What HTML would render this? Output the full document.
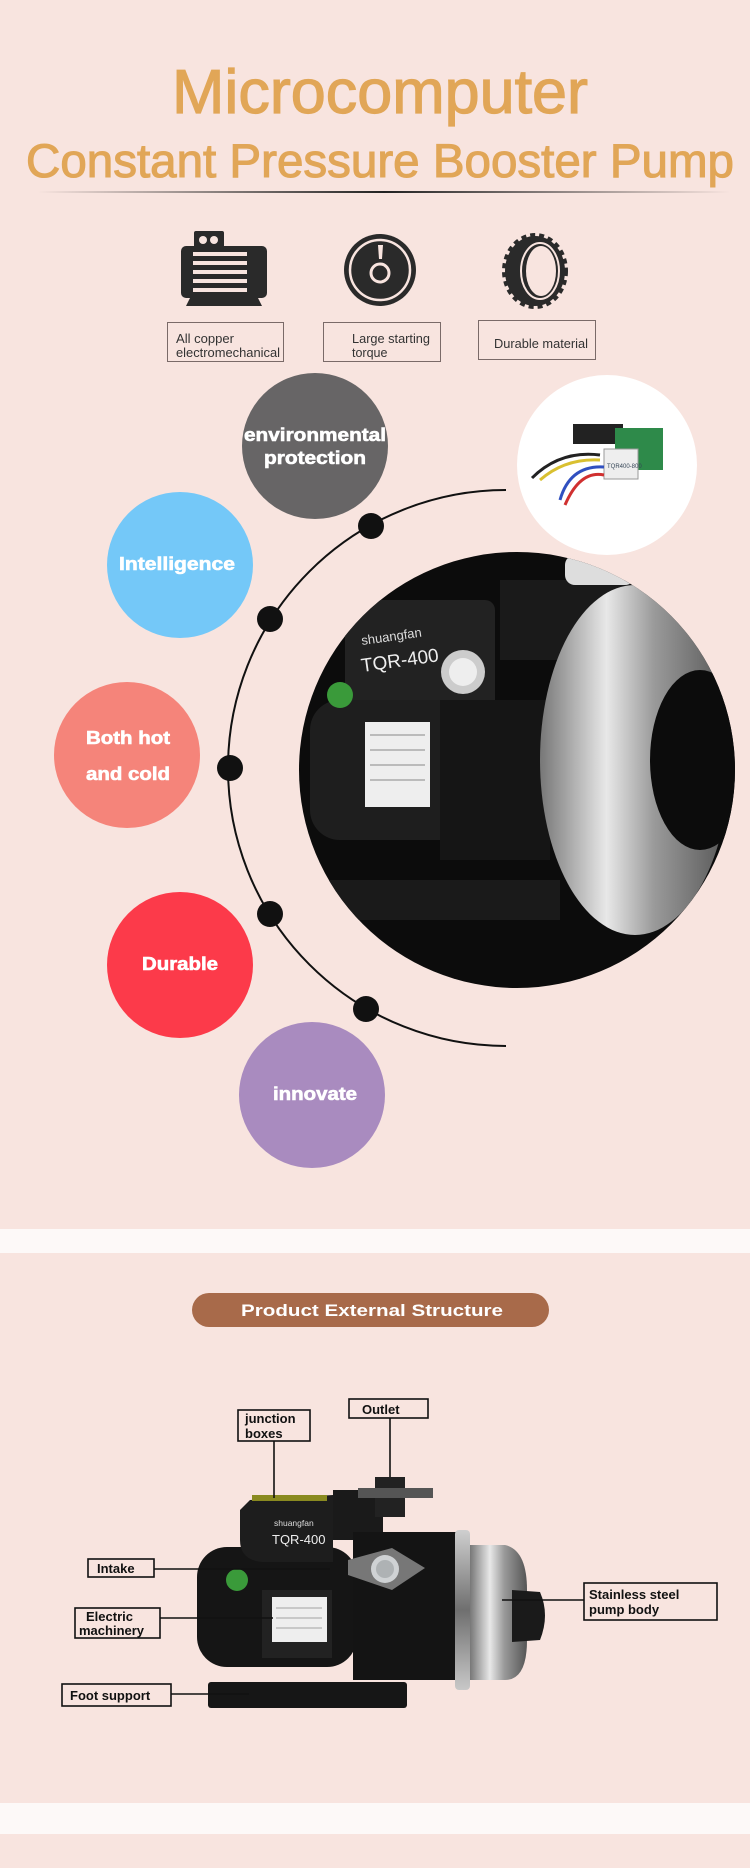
<!DOCTYPE html>
<html><head><meta charset="utf-8"><style>
html,body{margin:0;padding:0;background:#f8e4df;}
svg{display:block;}
</style></head><body>
<svg width="750" height="1868" viewBox="0 0 750 1868" xmlns="http://www.w3.org/2000/svg" font-family="Liberation Sans, sans-serif">
<defs>
<linearGradient id="dv" x1="0" x2="1"><stop offset="0" stop-color="#f8e4df"/><stop offset="0.5" stop-color="#222"/><stop offset="1" stop-color="#f8e4df"/></linearGradient>
<linearGradient id="steel" x1="0" x2="1"><stop offset="0" stop-color="#777"/><stop offset="0.35" stop-color="#e8e8e8"/><stop offset="0.6" stop-color="#9a9a9a"/><stop offset="1" stop-color="#555"/></linearGradient>
<linearGradient id="steel2" x1="0" y1="0" x2="0" y2="1"><stop offset="0" stop-color="#cfcfcf"/><stop offset="0.5" stop-color="#6f6f6f"/><stop offset="1" stop-color="#c8c8c8"/></linearGradient>
<clipPath id="bc"><circle cx="517" cy="770" r="218"/></clipPath>
</defs>
<rect width="750" height="1868" fill="#f8e4df"/>
<!-- Title -->
<text x="172" y="113" font-size="62" fill="#e1a657" stroke="#e1a657" stroke-width="1.2" textLength="416" lengthAdjust="spacingAndGlyphs">Microcomputer</text>
<text x="26" y="177" font-size="47" fill="#e1a657" stroke="#e1a657" stroke-width="1.1" textLength="708" lengthAdjust="spacingAndGlyphs">Constant Pressure Booster Pump</text>
<rect x="38" y="191" width="692" height="2" fill="url(#dv)"/>
<!-- Icons -->
<g fill="#2a2a2a">
<rect x="194" y="231" width="30" height="22" rx="2"/>
<circle cx="203" cy="240" r="4" fill="#f8e4df"/><circle cx="214" cy="240" r="4" fill="#f8e4df"/>
<rect x="181" y="246" width="86" height="52" rx="5"/>
<polygon points="190,298 258,298 262,306 186,306"/>
<g fill="#f8e4df"><rect x="193" y="252" width="54" height="4"/><rect x="193" y="261" width="54" height="4"/><rect x="193" y="270" width="54" height="4"/><rect x="193" y="279" width="54" height="4"/><rect x="193" y="288" width="54" height="4"/></g>
<circle cx="380" cy="270" r="36"/>
<circle cx="380" cy="270" r="30" fill="none" stroke="#f8e4df" stroke-width="2.5"/>
<circle cx="380" cy="273" r="9" fill="none" stroke="#f8e4df" stroke-width="3"/>
<polygon points="378,245 383,245 382,259 379,259" fill="#f8e4df"/>
<ellipse cx="535" cy="271" rx="30" ry="35"/>
<ellipse cx="535" cy="271" rx="31" ry="36" fill="none" stroke="#2a2a2a" stroke-width="4" stroke-dasharray="5 4"/>
<ellipse cx="540" cy="271" rx="19" ry="28" fill="none" stroke="#f8e4df" stroke-width="2"/>
<ellipse cx="541" cy="271" rx="15" ry="25" fill="#f8e4df"/>
</g>
<g fill="none" stroke="#7a6a68" stroke-width="1">
<rect x="167.5" y="322.5" width="116" height="39"/><rect x="323.5" y="322.5" width="117" height="39"/><rect x="478.5" y="320.5" width="117" height="39"/>
</g>
<g font-size="12.5" fill="#333">
<text x="176" y="343" textLength="58" lengthAdjust="spacingAndGlyphs">All copper</text><text x="176" y="357" textLength="104" lengthAdjust="spacingAndGlyphs">electromechanical</text>
<text x="352" y="343" textLength="78" lengthAdjust="spacingAndGlyphs">Large starting</text><text x="352" y="357">torque</text>
<text x="494" y="348" textLength="94" lengthAdjust="spacingAndGlyphs">Durable material</text>
</g>
<!-- Arc -->
<path d="M506 490 A278 278 0 0 0 506 1046" fill="none" stroke="#111" stroke-width="2"/>
<!-- PCB circle -->
<circle cx="607" cy="465" r="90" fill="#fff"/>
<rect x="573" y="424" width="50" height="20" fill="#222"/>
<rect x="615" y="428" width="48" height="42" fill="#2e8a4a"/>
<rect x="604" y="449" width="34" height="30" fill="#eee" stroke="#999"/>
<text x="607" y="468" font-size="6" fill="#345">TQR400-800</text>
<path d="M532 478 Q560 450 600 455" stroke="#222" stroke-width="3" fill="none"/>
<path d="M540 480 Q565 458 600 460" stroke="#d9c030" stroke-width="3" fill="none"/>
<path d="M560 500 Q570 465 604 467" stroke="#3050c0" stroke-width="3" fill="none"/>
<path d="M565 505 Q580 470 604 475" stroke="#d03030" stroke-width="3" fill="none"/>
<!-- Big black circle with pump -->
<circle cx="517" cy="770" r="218" fill="#0c0c0c"/>
<g clip-path="url(#bc)">
<rect x="345" y="600" width="150" height="130" rx="10" fill="#222"/>
<rect x="500" y="580" width="130" height="80" fill="#1a1a1a"/>
<rect x="565" y="555" width="70" height="30" rx="10" fill="#ddd"/>
<rect x="310" y="700" width="160" height="140" rx="30" fill="#1e1e1e"/>
<rect x="365" y="722" width="65" height="85" fill="#eee"/>
<g stroke="#888" stroke-width="1"><line x1="370" y1="735" x2="425" y2="735"/><line x1="370" y1="750" x2="425" y2="750"/><line x1="370" y1="765" x2="425" y2="765"/><line x1="370" y1="780" x2="425" y2="780"/></g>
<circle cx="340" cy="695" r="13" fill="#3a9a3a"/>
<rect x="440" y="700" width="110" height="160" fill="#151515"/>
<ellipse cx="463" cy="672" rx="22" ry="22" fill="#ccc"/>
<ellipse cx="463" cy="672" rx="14" ry="14" fill="#eee"/>
<ellipse cx="635" cy="760" rx="95" ry="175" fill="url(#steel)"/>
<ellipse cx="700" cy="760" rx="50" ry="90" fill="#0c0c0c"/>
<rect x="320" y="880" width="240" height="40" fill="#1a1a1a"/>
</g>
<text x="362" y="645" font-size="13" fill="#ddd" transform="rotate(-8 362 645)">shuangfan</text>
<text x="362" y="672" font-size="19" fill="#eee" transform="rotate(-8 362 672)">TQR-400</text>
<!-- Feature circles -->
<g font-weight="bold" fill="#fff" text-anchor="middle" font-size="18" stroke="#fff" stroke-width="0.6">
<circle cx="315" cy="446" r="73" fill="#676566" stroke="none"/>
<text x="315" y="441" textLength="142" lengthAdjust="spacingAndGlyphs">environmental</text>
<text x="315" y="464" textLength="102" lengthAdjust="spacingAndGlyphs">protection</text>
<circle cx="180" cy="565" r="73" fill="#74c8f8" stroke="none"/>
<text x="177" y="570" textLength="116" lengthAdjust="spacingAndGlyphs">Intelligence</text>
<circle cx="127" cy="755" r="73" fill="#f5847a" stroke="none"/>
<text x="128" y="744" textLength="84" lengthAdjust="spacingAndGlyphs">Both hot</text>
<text x="128" y="780" textLength="84" lengthAdjust="spacingAndGlyphs">and cold</text>
<circle cx="180" cy="965" r="73" fill="#fc3a4a" stroke="none"/>
<text x="180" y="970" textLength="76" lengthAdjust="spacingAndGlyphs">Durable</text>
<circle cx="312" cy="1095" r="73" fill="#a98bbf" stroke="none"/>
<text x="315" y="1100" textLength="84" lengthAdjust="spacingAndGlyphs">innovate</text>
</g>
<g fill="#111">
<circle cx="371" cy="526" r="13"/><circle cx="270" cy="619" r="13"/><circle cx="230" cy="768" r="13"/><circle cx="270" cy="914" r="13"/><circle cx="366" cy="1009" r="13"/>
</g>
<!-- White bands -->
<rect x="0" y="1229" width="750" height="24" fill="#fdf9f8"/>
<rect x="0" y="1803" width="750" height="31" fill="#fdf9f8"/>
<!-- Pill -->
<rect x="192" y="1293" width="357" height="34" rx="17" fill="#a86a4a"/>
<text x="372" y="1316" font-size="17" font-weight="bold" fill="#fff" text-anchor="middle" textLength="262" lengthAdjust="spacingAndGlyphs">Product External Structure</text>
<!-- Pump -->
<g>
<rect x="208" y="1682" width="199" height="26" rx="3" fill="#161616"/>
<rect x="197" y="1547" width="160" height="120" rx="30" fill="#151515"/>
<rect x="262" y="1590" width="70" height="68" fill="#222"/>
<rect x="272" y="1597" width="55" height="45" fill="#eee"/>
<g stroke="#888" stroke-width="0.8"><line x1="276" y1="1608" x2="322" y2="1608"/><line x1="276" y1="1618" x2="322" y2="1618"/><line x1="276" y1="1628" x2="322" y2="1628"/></g>
<circle cx="237" cy="1580" r="11" fill="#3a9a3a"/>
<path d="M250 1500 L333 1495 L333 1562 L262 1562 Q240 1560 240 1540 L240 1510 Z" fill="#1d1d1d"/>
<rect x="252" y="1495" width="75" height="6" fill="#8a8a20"/>
<text x="274" y="1526" font-size="8.5" fill="#ddd">shuangfan</text>
<text x="272" y="1544" font-size="13" fill="#eee">TQR-400</text>
<rect x="333" y="1490" width="50" height="50" fill="#1a1a1a"/>
<rect x="375" y="1477" width="30" height="40" fill="#222"/>
<rect x="358" y="1488" width="75" height="10" fill="#555"/>
<rect x="353" y="1532" width="104" height="148" fill="#141414"/>
<path d="M348 1560 L392 1548 L425 1568 L392 1590 L348 1575 Z" fill="#777"/>
<circle cx="385" cy="1569" r="14" fill="#cfd2d4"/>
<circle cx="385" cy="1569" r="9" fill="#aeb2b4"/>
<rect x="455" y="1530" width="15" height="160" rx="4" fill="url(#steel2)"/>
<path d="M470 1545 L505 1545 Q527 1550 527 1590 L527 1640 Q527 1680 505 1680 L470 1680 Z" fill="url(#steel)"/>
<path d="M512 1590 L540 1592 Q550 1615 540 1640 L512 1642 Z" fill="#1a1a1a"/>
</g>
<!-- Labels -->
<g fill="none" stroke="#111" stroke-width="1.6">
<line x1="274" y1="1441" x2="274" y2="1498"/>
<line x1="390" y1="1418" x2="390" y2="1477"/>
<line x1="154" y1="1569" x2="330" y2="1569"/>
<line x1="160" y1="1618" x2="273" y2="1618"/>
<line x1="171" y1="1694" x2="249" y2="1694"/>
<line x1="502" y1="1600" x2="584" y2="1600"/>
<rect x="238" y="1410" width="72" height="31"/>
<rect x="349" y="1399" width="79" height="19"/>
<rect x="88" y="1559" width="66" height="18"/>
<rect x="75" y="1608" width="85" height="30"/>
<rect x="62" y="1684" width="109" height="22"/>
<rect x="584" y="1583" width="133" height="37"/>
</g>
<g font-size="13" font-weight="bold" fill="#111">
<text x="245" y="1423">junction</text><text x="245" y="1438">boxes</text>
<text x="362" y="1414">Outlet</text>
<text x="97" y="1573">Intake</text>
<text x="86" y="1621">Electric</text><text x="79" y="1635">machinery</text>
<text x="70" y="1700">Foot support</text>
<text x="589" y="1599">Stainless steel</text><text x="589" y="1614">pump body</text>
</g>
</svg>
</body></html>
